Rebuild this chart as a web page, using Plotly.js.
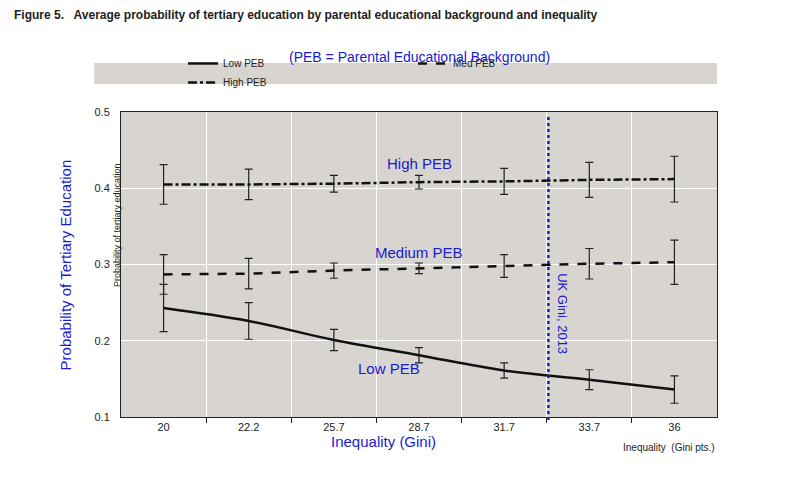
<!DOCTYPE html>
<html><head><script src="https://cdn.plot.ly/plotly-3.0.1.min.js"></script>
<style>body{margin:0;background:#fff}</style></head>
<body><div id="c" style="width:790px;height:484px"></div>
<script>
const giniLabels = ["20","22.2","25.7","28.7","31.7","33.7","36"];
const lowVals  = [0.243,0.226,0.201,0.181,0.161,0.149,0.136];
const lowErr   = [0.031,0.024,0.014,0.010,0.010,0.013,0.018];
const medVals  = [0.287,0.288,0.292,0.295,0.298,0.301,0.303];
const medErr   = [0.026,0.020,0.010,0.007,0.015,0.020,0.029];
const highVals = [0.405,0.405,0.406,0.408,0.409,0.411,0.412];
const highErr  = [0.026,0.020,0.011,0.009,0.017,0.023,0.030];
const ukGiniPos = 4.52;
const xs = giniLabels.map((_, i) => i);
const err = a => ({type:'data', array:a, visible:true, color:'#222', thickness:1.2, width:4});
const traces = [
 {x:xs, y:lowVals, name:'Low PEB', mode:'lines', line:{color:'#111', width:2.5, dash:'solid', shape:'spline'}, error_y:err(lowErr)},
 {x:xs, y:medVals, name:'Med PEB', mode:'lines', line:{color:'#111', width:2.5, dash:'dash'}, error_y:err(medErr)},
 {x:xs, y:highVals, name:'High PEB', mode:'lines', line:{color:'#111', width:2.5, dash:'dashdot'}, error_y:err(highErr)},
 {x:[0.5], y:[0.1], xaxis:'x2', mode:'markers', marker:{opacity:0}, showlegend:false, hoverinfo:'skip'}
];
const blue = '#1a1ad0';
const layout = {
 width:790, height:484, margin:{l:121, r:73, t:112, b:67},
 paper_bgcolor:'#fff', plot_bgcolor:'#d8d5d1',
 font:{family:'Liberation Sans, Arial', color:'#222'},
 showlegend:true,
 legend:{orientation:'h', x:0.49, xanchor:'center', y:1.128, yanchor:'middle', bgcolor:'rgba(0,0,0,0)', font:{size:10}, traceorder:'normal', entrywidth:185, entrywidthmode:'pixels'},
 xaxis:{range:[-0.5,6.5], tickvals:xs, ticktext:giniLabels, showgrid:false, ticks:'', zeroline:false, tickfont:{size:11}, showline:true, linecolor:'#222', mirror:true},
 xaxis2:{overlaying:'x', range:[-0.5,6.5], tickvals:[0.5,1.5,2.5,3.5,4.5,5.5], showticklabels:false, showgrid:true, gridcolor:'#fff', gridwidth:1.2, ticks:'outside', ticklen:5, tickcolor:'#222', zeroline:false, anchor:'y', side:'bottom'},
 yaxis:{range:[0.1,0.5], dtick:0.1, tickformat:'.1f', gridcolor:'#fff', gridwidth:1.2, zeroline:false, tickfont:{size:11}, ticks:'', ticklabelstandoff:8, showline:true, linecolor:'#222', mirror:true},
 shapes:[
  {type:'rect', xref:'paper', yref:'paper', x0:-0.045, x1:1.0, y0:1.092, y1:1.161, fillcolor:'#d8d5d1', line:{width:0}, layer:'below'},
  {type:'line', xref:'x', yref:'paper', x0:ukGiniPos, x1:ukGiniPos, y0:-0.01, y1:0.985, line:{color:blue, width:2.5, dash:'dot'}}
 ],
 annotations:[
  {xref:'paper', yref:'paper', x:-0.183, y:1.318, xanchor:'left', yanchor:'middle', showarrow:false, text:'<b>Figure 5.   Average probability of tertiary education by parental educational background and inequality</b>', font:{size:12, color:'#222'}},
  {xref:'paper', yref:'paper', x:0.5, y:1.213, showarrow:false, text:'(PEB = Parental Educational Background)', font:{size:14, color:blue}},
  {xref:'paper', yref:'paper', x:-0.11, y:0.5, textangle:-90, showarrow:false, text:'Probability of Tertiary Education', font:{size:15, color:blue}},
  {xref:'paper', yref:'paper', x:-0.018, y:0.84, textangle:-90, showarrow:false, text:'Probability of tertiary education', font:{size:9, color:'#222'}},
  {xref:'paper', yref:'paper', x:0.44, y:-0.115, showarrow:false, text:'Inequality (Gini)', font:{size:15, color:blue}},
  {xref:'paper', yref:'paper', x:1.0, y:-0.125, xanchor:'right', showarrow:false, text:'Inequality  (Gini pts.)', font:{size:10, color:'#222'}},
  {xref:'x', yref:'y', x:3.0, y:0.433, showarrow:false, text:'High PEB', font:{size:15, color:blue}},
  {xref:'x', yref:'y', x:3.0, y:0.316, showarrow:false, text:'Medium PEB', font:{size:15, color:blue}},
  {xref:'x', yref:'y', x:2.65, y:0.164, showarrow:false, text:'Low PEB', font:{size:15, color:blue}},
  {xref:'x', yref:'y', x:ukGiniPos+0.17, y:0.235, textangle:90, showarrow:false, text:'UK Gini, 2013', font:{size:13, color:blue}}
 ]
};
Plotly.newPlot('c', traces, layout, {displayModeBar:false});
</script></body></html>
